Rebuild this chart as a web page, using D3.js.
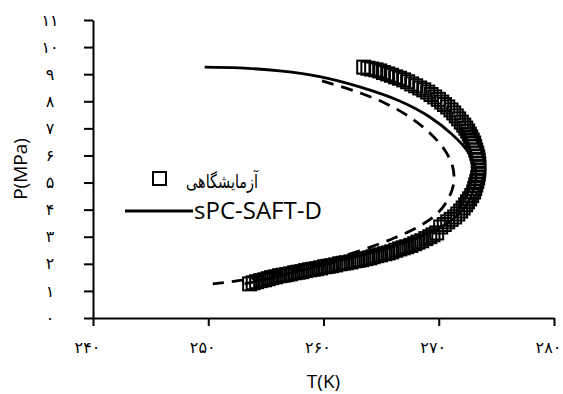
<!DOCTYPE html>
<html lang="fa">
<head>
<meta charset="UTF-8">
<title>P-T</title>
<script src="https://d3js.org/d3.v7.min.js"></script>
<style>
  html, body { margin: 0; padding: 0; background: #fff; overflow: hidden; }
  svg { display: block; font-family: "Open Sans", "DejaVu Sans", sans-serif; }
</style>
</head>
<body>
<div id="chart"></div>
<script>
// experimental points (T in K, P in MPa)
const expT = [263.49, 263.85, 264.18, 264.55, 264.88, 265.2, 265.57, 265.9, 266.26, 266.6, 266.96, 267.3,
  267.65, 268.0, 268.35, 268.7, 269.04, 269.33, 269.65, 269.97, 270.26, 270.5, 270.78, 271.06, 271.3,
  271.52, 271.73, 271.96, 272.17, 272.35, 272.51, 272.65, 272.77, 272.9, 273.03, 273.12, 273.21, 273.3,
  273.38, 273.43, 273.47, 273.48, 273.47, 273.43, 273.38, 273.3, 273.21, 273.12, 273.03, 272.86, 272.68,
  272.5, 272.34, 272.12, 271.9, 271.65, 271.38, 271.08, 270.78, 270.48, 270.17,
  269.82, 269.5, 269.22, 268.88, 268.52, 268.2, 267.91, 267.58, 267.22, 266.92, 266.61, 266.28, 265.92,
  265.6, 265.31, 264.95, 264.62, 264.3, 264.01, 263.68, 263.32, 263.0, 262.71, 262.38, 262.01, 261.7,
  261.41, 261.06, 260.71, 260.4, 260.1, 259.75, 259.41, 259.1, 258.8, 258.45, 258.11, 257.8, 257.5,
  257.15, 256.8, 256.5, 256.19, 255.85, 255.5, 255.2, 254.89, 254.55, 254.2, 253.9, 253.59];
const expP = [9.26, 9.22, 9.19, 9.16, 9.12, 9.06, 9.01, 8.96, 8.90, 8.85, 8.79, 8.72,
  8.64, 8.57, 8.49, 8.42, 8.34, 8.25, 8.16, 8.07, 7.97, 7.88, 7.79, 7.68, 7.57,
  7.46, 7.35, 7.23, 7.12, 7.01, 6.90, 6.79, 6.68, 6.57, 6.46, 6.33, 6.20, 6.08,
  5.95, 5.82, 5.69, 5.56, 5.43, 5.30, 5.17, 5.04, 4.91, 4.78, 4.65, 4.52, 4.40,
  4.29, 4.18, 4.06, 3.95, 3.84, 3.73, 3.64, 3.55, 3.45, 3.36,
  3.14, 3.07, 3.00, 2.93, 2.85, 2.80, 2.74, 2.68, 2.63, 2.59, 2.55, 2.50, 2.44,
  2.40, 2.37, 2.33, 2.30, 2.26, 2.22, 2.19, 2.15, 2.13, 2.11, 2.07, 2.04, 2.02,
  2.00, 1.96, 1.93, 1.91, 1.89, 1.85, 1.82, 1.80, 1.78, 1.75, 1.71, 1.69, 1.67,
  1.63, 1.60, 1.58, 1.56, 1.52, 1.49, 1.45, 1.41, 1.38, 1.34, 1.30, 1.26];

// sPC-SAFT-D model (solid)
const safdT = [249.69, 252.73, 256.2, 259.67, 263.14, 266.61, 269.22, 271.12, 272.42, 273.12, 273.21, 272.86,
  272.08, 270.78, 268.78, 266.18, 263.14, 259.67, 256.63, 254.03, 253.16];
const safdP = [9.26, 9.23, 9.12, 8.91, 8.53, 8.01, 7.42, 6.79, 6.20, 5.61, 5.10, 4.54,
  3.99, 3.51, 3.07, 2.66, 2.30, 1.93, 1.60, 1.34, 1.26];

// second model (dashed, not in legend)
const dashT = [259.87, 262.7, 265.3, 267.47, 269.22, 270.52, 271.21, 271.3, 270.78, 269.82, 268.35, 266.18,
  263.14, 259.67, 256.2, 253.16, 250.39];
const dashP = [8.75, 8.38, 7.94, 7.42, 6.83, 6.20, 5.58, 4.99, 4.36, 3.84, 3.40, 2.96,
  2.48, 2.04, 1.67, 1.41, 1.26];

const xTicks = [240, 250, 260, 270, 280];
const yTicks = [0, 1, 2, 3, 4, 5, 6, 7, 8, 9, 10, 11];
const xTitle = 'T(K)';
const yTitle = 'P(MPa)';
const legendExp = 'آزمایشگاهی';
const legendModel = 'sPC-SAFT-D';

const W = 563, H = 394;
const margin = { top: 20, right: 9, bottom: 76, left: 93 };

const fa = n => String(n).replace(/\d/g, d => '۰۱۲۳۴۵۶۷۸۹'[d]);

const svg = d3.select('#chart').append('svg')
  .attr('width', W).attr('height', H);

const x = d3.scaleLinear().domain([240, 280]).range([margin.left, W - margin.right]);
const y = d3.scaleLinear().domain([0, 11]).range([H - margin.bottom, margin.top]);

// axes
const xAxis = svg.append('g')
  .attr('transform', `translate(0,${y(0)})`)
  .call(d3.axisBottom(x).tickValues(xTicks).tickFormat(fa).tickSize(8).tickSizeOuter(0).tickPadding(16));
const yAxis = svg.append('g')
  .attr('transform', `translate(${x(240)},0)`)
  .call(d3.axisLeft(y).tickValues(yTicks).tickFormat(fa).tickSize(9).tickSizeOuter(0).tickPadding(34));

[xAxis, yAxis].forEach(g => {
  g.select('.domain').attr('stroke', '#000').attr('stroke-width', 2);
  g.selectAll('.tick line').attr('stroke', '#000').attr('stroke-width', 2);
  g.selectAll('.tick text').attr('fill', '#000').style('font-size', '16px')
    .style('font-family', '"DejaVu Sans", sans-serif');
});
yAxis.selectAll('.tick text').attr('text-anchor', 'middle');
xAxis.selectAll('.tick text').attr('dx', -6);

svg.append('text')
  .attr('x', (x(240) + x(280)) / 2).attr('y', 388)
  .attr('text-anchor', 'middle').style('font-size', '19px')
  .text(xTitle);
svg.append('text')
  .attr('transform', `translate(27,${(y(0) + y(11)) / 2}) rotate(-90)`)
  .attr('text-anchor', 'middle').style('font-size', '19px')
  .text(yTitle);

const line = (ts, ps) => d3.line().curve(d3.curveCatmullRom)
  .x((d, i) => x(ts[i])).y((d, i) => y(ps[i]))(ts);

// dashed model
svg.append('path').attr('d', line(dashT, dashP))
  .attr('fill', 'none').attr('stroke', '#000').attr('stroke-width', 2.8)
  .attr('stroke-dasharray', '12,8');

// solid model
svg.append('path').attr('d', line(safdT, safdP))
  .attr('fill', 'none').attr('stroke', '#000').attr('stroke-width', 2.8);

// experimental squares
const sq = 13;
svg.append('g').selectAll('rect')
  .data(expT)
  .join('rect')
  .attr('x', (d, i) => x(d) - sq / 2)
  .attr('y', (d, i) => y(expP[i]) - sq / 2)
  .attr('width', sq).attr('height', sq)
  .attr('fill', 'none').attr('stroke', '#000').attr('stroke-width', 2);

// legend
const lg = svg.append('g');
lg.append('rect').attr('x', 153).attr('y', 172).attr('width', 13).attr('height', 13)
  .attr('fill', 'none').attr('stroke', '#000').attr('stroke-width', 2);
lg.append('text').attr('x', 258).attr('y', 188).attr('text-anchor', 'end')
  .style('font-size', '19px').style('font-family', '"DejaVu Sans", sans-serif')
  .attr('textLength', 72).attr('lengthAdjust', 'spacingAndGlyphs')
  .text(legendExp);
lg.append('line').attr('x1', 125).attr('x2', 193).attr('y1', 211).attr('y2', 211)
  .attr('stroke', '#000').attr('stroke-width', 2.8);
lg.append('text').attr('x', 194).attr('y', 219)
  .style('font-size', '24px')
  .text(legendModel);
</script>
</body>
</html>
